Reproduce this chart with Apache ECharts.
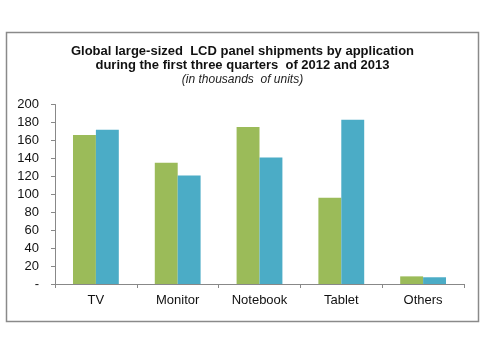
<!DOCTYPE html>
<html style="height: 100%">
<head>
    <meta charset="UTF-8">
    <script type="text/javascript" src="https://cdn.jsdelivr.net/npm/echarts@6/dist/echarts.min.js"></script>
</head>
<body style="height: 100%; margin: 0; background: #fff">
    <div id="container" style="width: 485px; height: 350px"></div>
    <script type="text/javascript">
        var categories = ['TV', 'Monitor', 'Notebook', 'Tablet', 'Others'];
        var values2012 = [166, 135, 175, 96, 8.5];
        var values2013 = [172, 121, 141, 183, 7.5];
        var yTicks = [0, 20, 40, 60, 80, 100, 120, 140, 160, 180, 200];

        var myChart = echarts.init(document.getElementById('container'));
        var font = 'Liberation Sans, Arial, sans-serif';

        var option = {
            animation: false,
            graphic: [{
                type: 'rect',
                shape: { x: 6.5, y: 32.5, width: 472, height: 289 },
                style: { fill: 'none', stroke: '#8a8a8a', lineWidth: 1.5 }
            }, {
                type: 'text',
                left: 'center',
                top: 44,
                style: {
                    text: 'Global large-sized  LCD panel shipments by application\nduring the first three quarters  of 2012 and 2013',
                    font: 'bold 13px ' + font,
                    fill: '#111',
                    textAlign: 'center',
                    lineHeight: 14
                }
            }, {
                type: 'text',
                left: 'center',
                top: 74,
                style: {
                    text: '(in thousands  of units)',
                    font: 'italic 12px ' + font,
                    fill: '#222',
                    textAlign: 'center'
                }
            }],
            grid: { left: 55, right: 21, top: 104.5, bottom: 66 },
            xAxis: {
                type: 'category',
                data: categories,
                axisLine: { lineStyle: { color: '#888' } },
                axisTick: { show: true, length: 4, lineStyle: { color: '#888' } },
                axisLabel: { color: '#111', fontSize: 13, fontFamily: font, margin: 10 }
            },
            yAxis: {
                type: 'value',
                min: 0,
                max: 200,
                interval: 20,
                splitLine: { show: false },
                axisLine: { show: true, lineStyle: { color: '#888' } },
                axisTick: { show: true, length: 4, lineStyle: { color: '#888' } },
                axisLabel: {
                    color: '#111',
                    fontSize: 13,
                    fontFamily: font,
                    margin: 16,
                    formatter: function (v) {
                        return yTicks.indexOf(v) === 0 ? '-' : String(v);
                    }
                }
            },
            series: [{
                name: '2012',
                type: 'bar',
                data: values2012,
                barGap: '0%',
                barCategoryGap: '44%',
                itemStyle: { color: '#9bbb59' }
            }, {
                name: '2013',
                type: 'bar',
                data: values2013,
                itemStyle: { color: '#4bacc6' }
            }]
        };

        myChart.setOption(option);
    </script>
</body>
</html>
